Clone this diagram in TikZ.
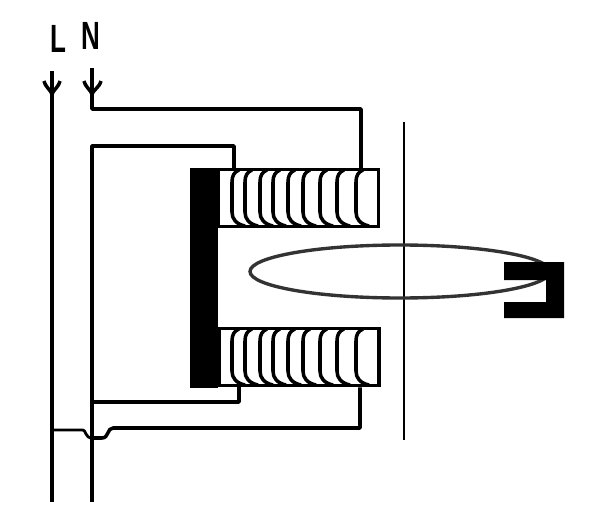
\documentclass[tikz,border=0pt]{standalone}
\usepackage{fontspec}
\setmainfont{Liberation Sans}
\tikzset{
	wire/.style={line width=2.5pt, black, line join=round},
	turn/.style={line width=2.5pt, black},
	coil/.style={rectangle, draw, line width=2.6pt, minimum width=4.0cm, minimum height=1.43cm, inner sep=0pt},
	letter/.style={font=\fontsize{28}{28}\selectfont\bfseries, xscale=0.66, transform shape, inner sep=0pt}
}
\begin{document}
\begin{tikzpicture}[x=0.025cm, y=-0.025cm]
	
	\useasboundingbox (0,0) rectangle (600,526);
	
	%Names
	\node[letter] (nameL) at (58,38.5) {L};
	\node[letter] (nameN) at (90.5,35.5) {N};
	
	%Coils and core
	\node[coil] (topCoil) at (298.5,198) {};
	\node[coil] (bottomCoil) at (299,357) {};
	\node (core) at (204,278) [rectangle, fill=black, minimum width=0.7cm, minimum height=5.5cm, inner sep=0pt]{};
	
	%Turns
	\foreach \ypos in {170,329}{
		\foreach \xpos in {232,245,260,273,288,303,320,337,356}{
			\draw[turn] (\xpos+7,\ypos) .. controls (\xpos+2,\ypos+2) and (\xpos,\ypos+6) .. (\xpos,\ypos+12) -- (\xpos,\ypos+42) .. controls (\xpos,\ypos+49) and (\xpos+4,\ypos+54) .. (\xpos+13,\ypos+56);
		}
	}
	
	%Wire ends
	\coordinate (lineL) at (52,71);
	\coordinate (lineLend) at (52,502);
	\coordinate (lineN) at (92,68);
	\coordinate (lineNcorner) at (92,109);
	\coordinate (returnTop) at (92,146);
	\coordinate (returnEnd) at (92,502);
	\coordinate (tapTop) at (361,109);
	\coordinate (tapLeft) at (234,146);
	\coordinate (tapBottom) at (239,402);
	\coordinate (tapRight) at (360,428);
	
	%Wires
	\draw[wire] (lineL) -- (lineLend);
	\draw[wire] (lineN) -- (lineNcorner) -- (tapTop) -- (tapTop |- topCoil.north);
	\draw[wire] (returnEnd) -- (returnTop) -- (tapLeft) -- (tapLeft |- topCoil.north);
	\draw[wire] (returnTop |- tapBottom) -- (tapBottom) -- (tapBottom |- bottomCoil.south);
	\draw[wire, line width=2pt] (lineL |- 0,430) -- (83,430) .. controls (86,430) and (85,438) .. (92,438);
	\draw[wire] (92,438) -- (102,438) .. controls (109,438) and (107,428) .. (113,428) -- (tapRight) -- (tapRight |- bottomCoil.south);
	
	%Arrow forks
	\draw[wire] (44,81) .. controls (46,88) and (50,89) .. (52,94) .. controls (54,89) and (58,88) .. (60,81);
	\draw[wire] (84,81) .. controls (86,88) and (90,89) .. (92,94) .. controls (94,89) and (99,88) .. (101,81);
	
	%Plate
	\coordinate (plateTop) at (404,122);
	\coordinate (plateEnd) at (404,440);
	\draw[line width=2pt] (plateTop) -- (plateEnd);
	
	%Flux loop
	\draw[line width=2.4pt, black!80] (400,271.5) ellipse [x radius=150, y radius=26.5];
	
	%Armature
	\fill[black] (504,262) -- (564,262) -- (564,318) -- (504,318) -- (504,302) -- (546,302) -- (546,280) -- (504,280) -- cycle;
	
\end{tikzpicture}
\end{document}
